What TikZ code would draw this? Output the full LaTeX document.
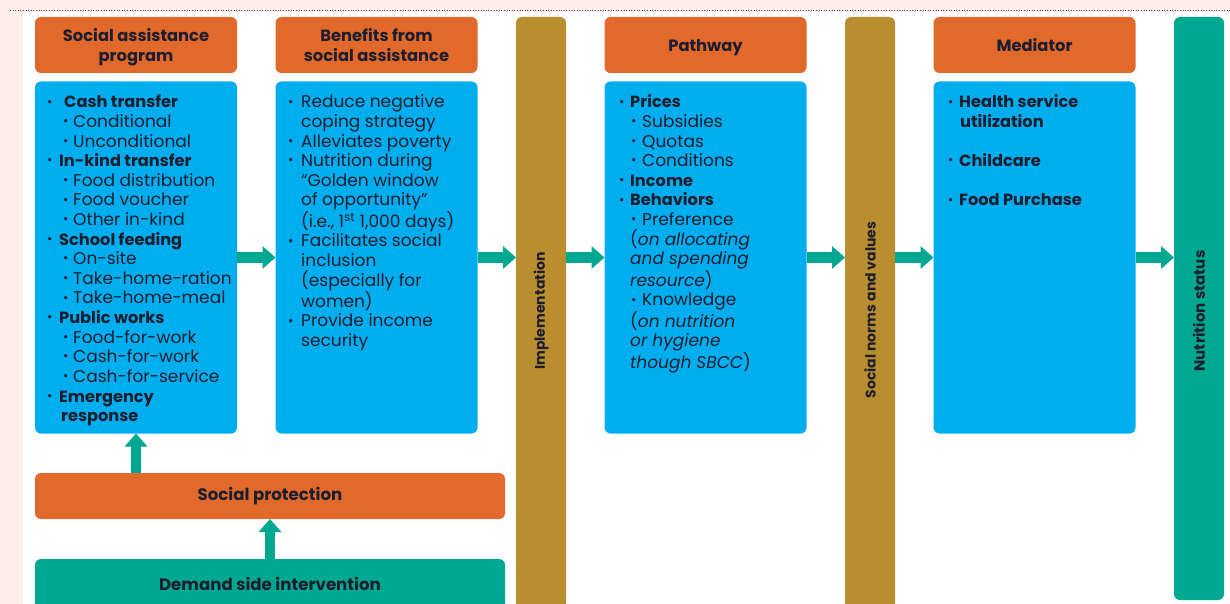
\documentclass[tikz,border=0pt]{standalone}
\usepackage{fontspec}
\setmainfont{Poppins}
\usetikzlibrary{arrows.meta,calc}
\definecolor{peach}{HTML}{FCEEE6}
\definecolor{orng}{HTML}{E0692B}
\definecolor{skyb}{HTML}{00AEEF}
\definecolor{gold}{HTML}{B98E2F}
\definecolor{tealc}{HTML}{00A891}
\definecolor{ink}{HTML}{1C1D2E}
\newcommand\dotb{\raisebox{0.2ex}{\fontsize{13}{13}\selectfont •}}
\newcommand\Li[3]{\hspace*{#1}\makebox[#2][l]{\dotb}#3\par}
\newcommand\Lc[2]{\hspace*{#1}#2\par}
\newcommand\Lblank{\mbox{}\par}
\newcommand\B[1]{{\fontsize{16.2}{19.6}\selectfont\bfseries #1}}
\begin{document}
\begin{tikzpicture}[x=1pt,y=-1pt,
  hdr/.style={fill=orng,rounded corners=6pt,inner sep=0pt,outer sep=0pt,minimum width=202pt,minimum height=56pt,align=center,text depth=0pt,text=ink,font=\fontsize{16.3}{19.6}\selectfont\bfseries},
  bbox/.style={fill=skyb,rounded corners=6pt,inner sep=0pt,outer sep=0pt,minimum width=202pt,minimum height=352pt},
  barbox/.style={rounded corners=6pt,inner sep=0pt,outer sep=0pt,minimum width=50pt},
  widebox/.style={rounded corners=6pt,inner sep=0pt,outer sep=0pt,minimum width=470pt,minimum height=46pt,text=ink,font=\fontsize{16.6}{18}\selectfont\bfseries},
  body/.style={anchor=base west,inner sep=0pt,text=ink,font=\fontsize{17}{19.6}\selectfont},
  vlab/.style={rotate=90,text=ink,font=\fontsize{14}{18}\selectfont\bfseries},
  arr/.style={draw=tealc,line width=10.5pt,-{Triangle[length=13pt,width=22pt]}}]
\useasboundingbox (0,0) rectangle (1230,604);
\clip (0,0) rectangle (1230,604);
\fill[peach] (0,0) rectangle (1230,604);
\fill[white] (23,12) rectangle (1230,604);
\draw[ink!80,line width=0.6pt,dotted] (10,10.5) -- (1230,10.5);

% headers
\node[hdr] (h1) at (136,45) {Social assistance\\program};
\node[hdr] (h2) at (376.5,45) {Benefits from\\social assistance};
\node[hdr] (h3) at (705.5,45) {Pathway};
\node[hdr] (h4) at (1034.5,45) {Mediator};

% blue boxes
\node[bbox] (b1) at (136,257.5) {};
\node[bbox] (b2) at (376.5,257.5) {};
\node[bbox] (b3) at (705.5,257.5) {};
\node[bbox] (b4) at (1034.5,257.5) {};

% vertical bars
\node[barbox,fill=gold,minimum height=592pt] (impl) at (541,313) {};
\node[barbox,fill=gold,minimum height=592pt] (sn) at (870,313) {};
\node[barbox,fill=tealc,minimum height=583pt] (ns) at (1199,308.5) {};
\node[vlab] (limpl) at (541,311) {Implementation};
\node[vlab] (lsn) at (870,310) {Social norms and values};
\node[vlab,font=\fontsize{15}{18}\selectfont\bfseries] (lns) at (1199,311) {Nutrition status};

% bottom boxes
\node[widebox,fill=orng] (sp) at (270,496) {Social protection};
\node[widebox,fill=tealc,minimum height=50pt] (ds) at (270,584) {Demand side intervention};

% texts
\node[body] (t1) at (47,108) {\parbox[t]{185pt}{\parindent=0pt
\Li{0pt}{17pt}{\B{Cash transfer}}
\Li{16pt}{10pt}{Conditional}
\Li{16pt}{10pt}{Unconditional}
\Li{0pt}{12pt}{\B{In-kind transfer}}
\Li{16pt}{10pt}{Food distribution}
\Li{16pt}{10pt}{Food voucher}
\Li{16pt}{10pt}{Other in-kind}
\Li{0pt}{12pt}{\B{School feeding}}
\Li{16pt}{10pt}{On-site}
\Li{16pt}{10pt}{Take-home-ration}
\Li{16pt}{10pt}{Take-home-meal}
\Li{0pt}{12pt}{\B{Public works}}
\Li{16pt}{10pt}{Food-for-work}
\Li{16pt}{10pt}{Cash-for-work}
\Li{16pt}{10pt}{Cash-for-service}
\Li{0pt}{12pt}{\B{Emergency}}
\Lc{14pt}{\B{response}}}};

\node[body] (t2) at (288,108) {\parbox[t]{185pt}{\parindent=0pt
\Li{0pt}{13pt}{Reduce negative}
\Lc{13pt}{coping strategy}
\Li{0pt}{13pt}{Alleviates poverty}
\Li{0pt}{13pt}{Nutrition during}
\Lc{13pt}{“Golden window}
\Lc{13pt}{of opportunity”}
\Lc{13pt}{(i.e., 1\textsuperscript{st} 1,000 days)}
\Li{0pt}{13pt}{Facilitates social}
\Lc{13pt}{inclusion}
\Lc{13pt}{(especially for}
\Lc{13pt}{women)}
\Li{0pt}{13pt}{Provide income}
\Lc{13pt}{security}}};

\node[body] (t3) at (619,108) {\parbox[t]{185pt}{\parindent=0pt
\Li{0pt}{11pt}{\B{Prices}}
\Li{12pt}{11pt}{Subsidies}
\Li{12pt}{11pt}{Quotas}
\Li{12pt}{11pt}{Conditions}
\Li{0pt}{11pt}{\B{Income}}
\Li{0pt}{11pt}{\B{Behaviors}}
\Li{12pt}{11pt}{Preference}
\Lc{11pt}{(\textit{on allocating}}
\Lc{11pt}{\textit{and spending}}
\Lc{11pt}{\textit{resource})}
\Li{12pt}{11pt}{Knowledge}
\Lc{11pt}{(\textit{on nutrition}}
\Lc{11pt}{\textit{or hygiene}}
\Lc{11pt}{\textit{though SBCC})}}};

\node[body] (t4) at (948,108) {\parbox[t]{185pt}{\parindent=0pt
\Li{0pt}{11pt}{\B{Health service}}
\Lc{12pt}{\B{utilization}}
\Lblank
\Li{0pt}{11pt}{\B{Childcare}}
\Lblank
\Li{0pt}{11pt}{\B{Food Purchase}}}};

% arrows
\draw[arr] (b1.east) -- (b2.west);
\draw[arr] (b2.east) -- (impl.west |- b2.east);
\draw[arr] (impl.east |- b3.west) -- (b3.west);
\draw[arr] (b3.east) -- (sn.west |- b3.east);
\draw[arr] (sn.east |- b4.west) -- (b4.west);
\draw[arr] (b4.east) -- (ns.west |- b4.east);
\draw[arr] (b1.south |- sp.north) -- (b1.south);
\draw[arr] (sp.south |- ds.north) -- (sp.south);
\end{tikzpicture}
\end{document}
